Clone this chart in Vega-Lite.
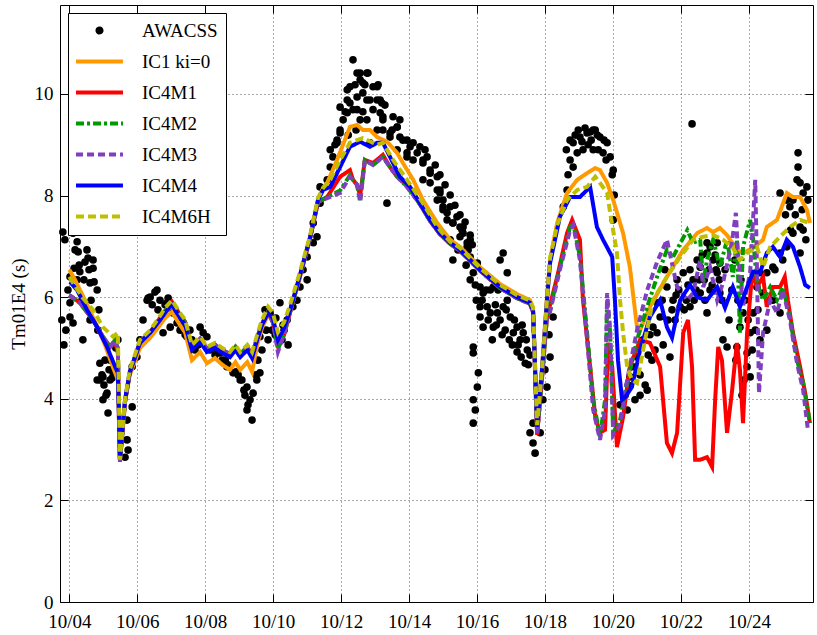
{
"$schema": "https://vega.github.io/schema/vega-lite/v6.json",
"width": 753, "height": 597,
"autosize": "none",
"padding": {"left": 60, "top": 5, "right": 4, "bottom": 33},
"background": "white",
"config": {"view": {"stroke": null}, "font": "Liberation Serif, Times New Roman, serif"},
"data": {"values": [
{"s":"AWACSS","d":3.81,"v":7.28},{"s":"AWACSS","d":3.87,"v":7.13},{"s":"AWACSS","d":3.78,"v":5.55},{"s":"AWACSS","d":3.84,"v":5.06},{"s":"AWACSS","d":3.90,"v":5.35},{"s":"AWACSS","d":4.02,"v":6.40},{"s":"AWACSS","d":4.02,"v":5.89},{"s":"AWACSS","d":4.02,"v":5.61},{"s":"AWACSS","d":4.11,"v":7.26},{"s":"AWACSS","d":4.11,"v":5.49},{"s":"AWACSS","d":4.14,"v":6.57},{"s":"AWACSS","d":4.23,"v":7.09},{"s":"AWACSS","d":4.23,"v":6.34},{"s":"AWACSS","d":4.26,"v":6.89},{"s":"AWACSS","d":4.31,"v":6.50},{"s":"AWACSS","d":4.37,"v":5.94},{"s":"AWACSS","d":4.40,"v":5.16},{"s":"AWACSS","d":4.46,"v":6.69},{"s":"AWACSS","d":4.52,"v":6.93},{"s":"AWACSS","d":4.55,"v":6.77},{"s":"AWACSS","d":4.61,"v":6.28},{"s":"AWACSS","d":4.61,"v":5.55},{"s":"AWACSS","d":4.70,"v":6.73},{"s":"AWACSS","d":4.70,"v":6.57},{"s":"AWACSS","d":4.73,"v":6.30},{"s":"AWACSS","d":4.82,"v":6.14},{"s":"AWACSS","d":4.84,"v":5.35},{"s":"AWACSS","d":4.90,"v":4.70},{"s":"AWACSS","d":4.90,"v":4.37},{"s":"AWACSS","d":4.96,"v":4.47},{"s":"AWACSS","d":4.99,"v":3.98},{"s":"AWACSS","d":4.99,"v":4.43},{"s":"AWACSS","d":5.02,"v":4.27},{"s":"AWACSS","d":5.08,"v":4.07},{"s":"AWACSS","d":5.11,"v":4.11},{"s":"AWACSS","d":5.14,"v":3.72},{"s":"AWACSS","d":5.20,"v":4.37},{"s":"AWACSS","d":5.20,"v":4.76},{"s":"AWACSS","d":5.26,"v":4.41},{"s":"AWACSS","d":5.29,"v":4.51},{"s":"AWACSS","d":5.32,"v":4.61},{"s":"AWACSS","d":5.37,"v":5.00},{"s":"AWACSS","d":5.43,"v":5.16},{"s":"AWACSS","d":4.82,"v":4.37},
{"s":"AWACSS","d":3.96,"v":6.14},{"s":"AWACSS","d":4.17,"v":6.93},{"s":"AWACSS","d":4.29,"v":6.63},{"s":"AWACSS","d":4.43,"v":6.34},{"s":"AWACSS","d":4.58,"v":6.54},{"s":"AWACSS","d":4.64,"v":5.94},{"s":"AWACSS","d":4.87,"v":5.75},{"s":"AWACSS","d":5.05,"v":4.76},{"s":"AWACSS","d":5.17,"v":4.57},
{"s":"AWACSS","d":5.64,"v":2.85},{"s":"AWACSS","d":5.70,"v":3.58},{"s":"AWACSS","d":5.70,"v":3.19},{"s":"AWACSS","d":5.73,"v":2.99},{"s":"AWACSS","d":5.85,"v":3.84},{"s":"AWACSS","d":5.85,"v":4.63},{"s":"AWACSS","d":5.99,"v":4.82},{"s":"AWACSS","d":6.08,"v":5.16},{"s":"AWACSS","d":6.17,"v":5.55},{"s":"AWACSS","d":6.29,"v":5.94},{"s":"AWACSS","d":6.32,"v":5.98},{"s":"AWACSS","d":6.38,"v":6.00},{"s":"AWACSS","d":6.52,"v":6.10},{"s":"AWACSS","d":6.58,"v":6.14},{"s":"AWACSS","d":6.67,"v":5.94},{"s":"AWACSS","d":6.76,"v":5.30},{"s":"AWACSS","d":6.82,"v":5.85},{"s":"AWACSS","d":6.88,"v":5.89},{"s":"AWACSS","d":6.97,"v":5.41},{"s":"AWACSS","d":7.05,"v":5.69},{"s":"AWACSS","d":7.17,"v":5.49},{"s":"AWACSS","d":7.26,"v":5.35},{"s":"AWACSS","d":7.41,"v":5.26},{"s":"AWACSS","d":7.46,"v":5.22},{"s":"AWACSS","d":7.61,"v":5.16},{"s":"AWACSS","d":7.79,"v":5.06},{"s":"AWACSS","d":7.85,"v":5.41},{"s":"AWACSS","d":7.94,"v":5.30},{"s":"AWACSS","d":8.05,"v":5.22},{"s":"AWACSS","d":8.14,"v":4.96},{"s":"AWACSS","d":8.23,"v":5.02},{"s":"AWACSS","d":8.29,"v":4.86},{"s":"AWACSS","d":8.43,"v":4.90},{"s":"AWACSS","d":8.50,"v":4.76},{"s":"AWACSS","d":8.64,"v":4.63},{"s":"AWACSS","d":8.67,"v":4.67},{"s":"AWACSS","d":8.82,"v":4.51},{"s":"AWACSS","d":8.91,"v":4.53},{"s":"AWACSS","d":9.03,"v":4.37},{"s":"AWACSS","d":9.08,"v":4.37},{"s":"AWACSS","d":9.17,"v":4.07},{"s":"AWACSS","d":9.23,"v":4.23},{"s":"AWACSS","d":9.23,"v":3.78},{"s":"AWACSS","d":9.26,"v":3.88},{"s":"AWACSS","d":9.32,"v":3.98},{"s":"AWACSS","d":9.38,"v":3.58},{"s":"AWACSS","d":9.41,"v":4.11},{"s":"AWACSS","d":9.50,"v":4.47},{"s":"AWACSS","d":9.52,"v":4.37},{"s":"AWACSS","d":9.61,"v":4.51},{"s":"AWACSS","d":9.61,"v":5.22},{"s":"AWACSS","d":9.67,"v":4.96},{"s":"AWACSS","d":9.76,"v":5.75},{"s":"AWACSS","d":9.79,"v":5.35},{"s":"AWACSS","d":9.91,"v":5.69},{"s":"AWACSS","d":9.97,"v":5.35},{"s":"AWACSS","d":10.06,"v":5.26},{"s":"AWACSS","d":10.08,"v":5.59},{"s":"AWACSS","d":10.20,"v":5.89},{"s":"AWACSS","d":10.26,"v":5.16},{"s":"AWACSS","d":10.32,"v":5.35},{"s":"AWACSS","d":10.41,"v":5.55},{"s":"AWACSS","d":10.44,"v":5.06},{"s":"AWACSS","d":10.58,"v":5.81},{"s":"AWACSS","d":10.70,"v":5.94},
{"s":"AWACSS","d":6.44,"v":5.85},{"s":"AWACSS","d":6.61,"v":5.75},{"s":"AWACSS","d":6.91,"v":5.98},{"s":"AWACSS","d":7.32,"v":5.45},{"s":"AWACSS","d":7.55,"v":5.35},{"s":"AWACSS","d":7.70,"v":4.96},{"s":"AWACSS","d":8.35,"v":4.96},{"s":"AWACSS","d":8.59,"v":4.76},{"s":"AWACSS","d":8.97,"v":4.47},{"s":"AWACSS","d":9.14,"v":4.17},{"s":"AWACSS","d":9.55,"v":4.76},{"s":"AWACSS","d":9.85,"v":5.16},{"s":"AWACSS","d":10.29,"v":5.45},
{"s":"AWACSS","d":10.79,"v":6.20},{"s":"AWACSS","d":10.88,"v":6.54},{"s":"AWACSS","d":11.00,"v":6.34},{"s":"AWACSS","d":11.00,"v":6.79},{"s":"AWACSS","d":11.18,"v":7.07},{"s":"AWACSS","d":11.29,"v":7.19},{"s":"AWACSS","d":11.18,"v":7.46},{"s":"AWACSS","d":11.38,"v":7.85},{"s":"AWACSS","d":11.38,"v":8.17},{"s":"AWACSS","d":11.59,"v":8.31},{"s":"AWACSS","d":11.68,"v":8.56},{"s":"AWACSS","d":11.76,"v":8.76},{"s":"AWACSS","d":11.68,"v":8.90},{"s":"AWACSS","d":11.88,"v":9.09},{"s":"AWACSS","d":11.97,"v":9.23},{"s":"AWACSS","d":11.97,"v":9.74},{"s":"AWACSS","d":12.18,"v":9.63},{"s":"AWACSS","d":12.26,"v":9.82},{"s":"AWACSS","d":12.18,"v":10.08},{"s":"AWACSS","d":12.35,"v":10.67},{"s":"AWACSS","d":12.47,"v":10.41},{"s":"AWACSS","d":12.56,"v":10.28},{"s":"AWACSS","d":12.76,"v":10.41},{"s":"AWACSS","d":12.64,"v":10.02},{"s":"AWACSS","d":12.85,"v":9.88},{"s":"AWACSS","d":13.06,"v":10.14},{"s":"AWACSS","d":13.15,"v":9.88},{"s":"AWACSS","d":12.94,"v":9.69},{"s":"AWACSS","d":12.76,"v":9.49},{"s":"AWACSS","d":12.47,"v":9.69},{"s":"AWACSS","d":12.26,"v":10.14},{"s":"AWACSS","d":13.23,"v":9.49},{"s":"AWACSS","d":13.06,"v":9.29},{"s":"AWACSS","d":13.53,"v":9.55},{"s":"AWACSS","d":13.65,"v":9.35},{"s":"AWACSS","d":13.44,"v":9.15},{"s":"AWACSS","d":13.82,"v":9.09},{"s":"AWACSS","d":14.03,"v":8.96},{"s":"AWACSS","d":14.24,"v":8.84},{"s":"AWACSS","d":14.41,"v":8.70},{"s":"AWACSS","d":14.12,"v":8.70},{"s":"AWACSS","d":13.94,"v":8.76},{"s":"AWACSS","d":14.62,"v":8.44},{"s":"AWACSS","d":14.83,"v":8.11},{"s":"AWACSS","d":15.00,"v":7.78},{"s":"AWACSS","d":14.83,"v":7.91},{"s":"AWACSS","d":15.12,"v":7.52},{"s":"AWACSS","d":14.41,"v":8.31},{"s":"AWACSS","d":13.35,"v":7.85},{"s":"AWACSS","d":13.65,"v":8.90},{"s":"AWACSS","d":12.85,"v":9.04},{"s":"AWACSS","d":14.47,"v":8.90},{"s":"AWACSS","d":14.77,"v":8.60},{"s":"AWACSS","d":14.91,"v":8.41},{"s":"AWACSS","d":15.06,"v":8.21},{"s":"AWACSS","d":15.21,"v":8.01},{"s":"AWACSS","d":15.35,"v":7.81},{"s":"AWACSS","d":15.50,"v":7.62},{"s":"AWACSS","d":15.56,"v":7.32},{"s":"AWACSS","d":15.65,"v":7.48},{"s":"AWACSS","d":15.80,"v":7.22},{"s":"AWACSS","d":15.86,"v":7.03},{"s":"AWACSS","d":15.74,"v":6.93},
{"s":"AWACSS","d":12.56,"v":10.41},{"s":"AWACSS","d":12.79,"v":10.41},{"s":"AWACSS","d":12.64,"v":10.22},{"s":"AWACSS","d":12.94,"v":10.14},{"s":"AWACSS","d":13.09,"v":10.18},{"s":"AWACSS","d":12.18,"v":9.88},{"s":"AWACSS","d":12.47,"v":9.94},{"s":"AWACSS","d":12.76,"v":9.88},{"s":"AWACSS","d":13.06,"v":9.88},{"s":"AWACSS","d":13.20,"v":9.82},{"s":"AWACSS","d":12.12,"v":9.65},{"s":"AWACSS","d":12.35,"v":9.69},{"s":"AWACSS","d":12.64,"v":9.65},{"s":"AWACSS","d":13.15,"v":9.63},{"s":"AWACSS","d":12.56,"v":9.49},{"s":"AWACSS","d":13.23,"v":9.55},{"s":"AWACSS","d":13.73,"v":9.49},{"s":"AWACSS","d":11.97,"v":9.29},{"s":"AWACSS","d":11.88,"v":9.04},{"s":"AWACSS","d":13.23,"v":9.29},{"s":"AWACSS","d":13.44,"v":9.23},{"s":"AWACSS","d":13.73,"v":9.15},{"s":"AWACSS","d":13.94,"v":9.09},{"s":"AWACSS","d":14.12,"v":9.04},{"s":"AWACSS","d":14.32,"v":8.96},{"s":"AWACSS","d":14.53,"v":8.76},{"s":"AWACSS","d":14.41,"v":8.64},{"s":"AWACSS","d":14.62,"v":8.50},{"s":"AWACSS","d":14.83,"v":8.37},{"s":"AWACSS","d":14.62,"v":8.25},{"s":"AWACSS","d":14.91,"v":8.11},{"s":"AWACSS","d":15.00,"v":7.91},{"s":"AWACSS","d":15.21,"v":7.78},{"s":"AWACSS","d":15.12,"v":7.66},{"s":"AWACSS","d":15.41,"v":7.58},{"s":"AWACSS","d":15.29,"v":7.46},{"s":"AWACSS","d":15.59,"v":7.38},{"s":"AWACSS","d":15.50,"v":7.19},{"s":"AWACSS","d":15.80,"v":7.13},{"s":"AWACSS","d":15.71,"v":6.99},{"s":"AWACSS","d":13.94,"v":8.84},{"s":"AWACSS","d":13.65,"v":9.35},{"s":"AWACSS","d":12.06,"v":9.49},{"s":"AWACSS","d":12.41,"v":10.18},{"s":"AWACSS","d":12.70,"v":10.18},{"s":"AWACSS","d":13.29,"v":9.78},{"s":"AWACSS","d":13.50,"v":9.29},{"s":"AWACSS","d":12.44,"v":9.29},{"s":"AWACSS","d":12.21,"v":9.19},{"s":"AWACSS","d":11.82,"v":9.00},
{"s":"AWACSS","d":14.91,"v":8.05},{"s":"AWACSS","d":15.00,"v":7.72},{"s":"AWACSS","d":15.29,"v":7.46},{"s":"AWACSS","d":15.50,"v":7.38},{"s":"AWACSS","d":15.59,"v":7.26},{"s":"AWACSS","d":15.71,"v":7.07},{"s":"AWACSS","d":15.21,"v":7.13},{"s":"AWACSS","d":15.29,"v":6.73},{"s":"AWACSS","d":15.80,"v":6.79},{"s":"AWACSS","d":15.89,"v":6.48},{"s":"AWACSS","d":15.80,"v":6.34},{"s":"AWACSS","d":16.01,"v":6.67},{"s":"AWACSS","d":16.09,"v":6.20},{"s":"AWACSS","d":16.18,"v":6.08},{"s":"AWACSS","d":16.30,"v":5.81},{"s":"AWACSS","d":16.09,"v":5.81},{"s":"AWACSS","d":16.18,"v":5.41},{"s":"AWACSS","d":16.39,"v":5.69},{"s":"AWACSS","d":16.48,"v":5.41},{"s":"AWACSS","d":16.60,"v":5.69},{"s":"AWACSS","d":16.77,"v":5.81},{"s":"AWACSS","d":16.89,"v":5.94},{"s":"AWACSS","d":16.98,"v":5.61},{"s":"AWACSS","d":17.07,"v":5.30},{"s":"AWACSS","d":17.18,"v":5.41},{"s":"AWACSS","d":17.27,"v":5.16},{"s":"AWACSS","d":17.36,"v":5.30},{"s":"AWACSS","d":17.48,"v":4.96},{"s":"AWACSS","d":17.42,"v":4.70},{"s":"AWACSS","d":16.77,"v":6.87},{"s":"AWACSS","d":16.68,"v":6.73},{"s":"AWACSS","d":16.89,"v":6.48},{"s":"AWACSS","d":16.09,"v":5.61},{"s":"AWACSS","d":15.89,"v":5.02},{"s":"AWACSS","d":15.89,"v":4.90},{"s":"AWACSS","d":16.04,"v":4.51},{"s":"AWACSS","d":16.01,"v":4.23},{"s":"AWACSS","d":15.89,"v":3.98},{"s":"AWACSS","d":15.95,"v":3.78},{"s":"AWACSS","d":15.89,"v":3.52},{"s":"AWACSS","d":17.65,"v":3.52},{"s":"AWACSS","d":17.56,"v":3.33},{"s":"AWACSS","d":17.65,"v":3.13},{"s":"AWACSS","d":17.71,"v":2.93},{"s":"AWACSS","d":17.86,"v":3.33},{"s":"AWACSS","d":17.94,"v":3.98},{"s":"AWACSS","d":18.06,"v":4.23},{"s":"AWACSS","d":18.15,"v":4.82},{"s":"AWACSS","d":18.24,"v":5.61},{"s":"AWACSS","d":16.48,"v":6.20},{"s":"AWACSS","d":16.27,"v":6.14},{"s":"AWACSS","d":16.54,"v":5.85},{"s":"AWACSS","d":16.68,"v":5.55},{"s":"AWACSS","d":16.83,"v":5.35},{"s":"AWACSS","d":17.04,"v":5.06},{"s":"AWACSS","d":17.18,"v":4.92},{"s":"AWACSS","d":17.30,"v":4.82},{"s":"AWACSS","d":17.51,"v":4.67},
{"s":"AWACSS","d":15.95,"v":6.24},{"s":"AWACSS","d":16.15,"v":5.94},{"s":"AWACSS","d":16.33,"v":5.55},{"s":"AWACSS","d":16.45,"v":5.16},{"s":"AWACSS","d":16.57,"v":5.45},{"s":"AWACSS","d":16.74,"v":5.26},{"s":"AWACSS","d":16.86,"v":5.75},{"s":"AWACSS","d":16.95,"v":5.16},{"s":"AWACSS","d":17.10,"v":5.55},{"s":"AWACSS","d":17.21,"v":5.06},{"s":"AWACSS","d":17.33,"v":5.45},{"s":"AWACSS","d":17.45,"v":5.16},{"s":"AWACSS","d":17.56,"v":4.86},{"s":"AWACSS","d":15.98,"v":5.94},{"s":"AWACSS","d":16.39,"v":6.14},{"s":"AWACSS","d":16.62,"v":6.14},{"s":"AWACSS","d":15.68,"v":6.63},{"s":"AWACSS","d":15.44,"v":6.93},{"s":"AWACSS","d":18.12,"v":5.26},{"s":"AWACSS","d":18.00,"v":4.57},
{"s":"AWACSS","d":18.54,"v":7.78},{"s":"AWACSS","d":18.65,"v":8.11},{"s":"AWACSS","d":18.83,"v":8.56},{"s":"AWACSS","d":18.83,"v":9.04},{"s":"AWACSS","d":18.95,"v":8.84},{"s":"AWACSS","d":19.03,"v":9.15},{"s":"AWACSS","d":19.12,"v":8.90},{"s":"AWACSS","d":19.24,"v":9.23},{"s":"AWACSS","d":19.42,"v":9.29},{"s":"AWACSS","d":19.42,"v":8.90},{"s":"AWACSS","d":19.62,"v":9.15},{"s":"AWACSS","d":19.71,"v":8.84},{"s":"AWACSS","d":19.83,"v":9.04},{"s":"AWACSS","d":19.92,"v":8.76},{"s":"AWACSS","d":20.01,"v":8.50},{"s":"AWACSS","d":18.63,"v":8.90},{"s":"AWACSS","d":18.74,"v":9.09},{"s":"AWACSS","d":18.89,"v":9.19},{"s":"AWACSS","d":19.18,"v":9.33},{"s":"AWACSS","d":19.33,"v":9.25},{"s":"AWACSS","d":19.48,"v":9.29},{"s":"AWACSS","d":19.98,"v":8.41},{"s":"AWACSS","d":20.04,"v":8.01},{"s":"AWACSS","d":20.01,"v":7.52},
{"s":"AWACSS","d":18.98,"v":9.29},{"s":"AWACSS","d":19.09,"v":9.06},{"s":"AWACSS","d":19.27,"v":9.00},{"s":"AWACSS","d":19.36,"v":9.09},{"s":"AWACSS","d":19.54,"v":9.19},{"s":"AWACSS","d":19.57,"v":8.90},{"s":"AWACSS","d":19.74,"v":9.09},{"s":"AWACSS","d":19.80,"v":8.70},{"s":"AWACSS","d":18.74,"v":8.70},{"s":"AWACSS","d":18.68,"v":8.41},
{"s":"AWACSS","d":22.33,"v":9.41},{"s":"AWACSS","d":20.50,"v":4.43},{"s":"AWACSS","d":20.59,"v":4.63},{"s":"AWACSS","d":20.71,"v":4.82},{"s":"AWACSS","d":20.80,"v":4.07},{"s":"AWACSS","d":20.95,"v":4.27},{"s":"AWACSS","d":21.01,"v":4.17},{"s":"AWACSS","d":20.89,"v":5.16},{"s":"AWACSS","d":21.09,"v":5.26},{"s":"AWACSS","d":21.18,"v":5.41},{"s":"AWACSS","d":21.24,"v":4.96},{"s":"AWACSS","d":21.30,"v":5.30},{"s":"AWACSS","d":21.39,"v":5.61},{"s":"AWACSS","d":21.30,"v":5.89},{"s":"AWACSS","d":21.48,"v":5.06},{"s":"AWACSS","d":21.59,"v":6.20},{"s":"AWACSS","d":21.62,"v":5.55},{"s":"AWACSS","d":21.68,"v":4.82},{"s":"AWACSS","d":21.74,"v":5.75},{"s":"AWACSS","d":21.77,"v":5.94},{"s":"AWACSS","d":21.86,"v":6.04},{"s":"AWACSS","d":21.89,"v":6.34},{"s":"AWACSS","d":21.98,"v":5.81},{"s":"AWACSS","d":22.07,"v":6.48},{"s":"AWACSS","d":22.16,"v":5.94},{"s":"AWACSS","d":22.21,"v":6.24},{"s":"AWACSS","d":22.27,"v":5.81},{"s":"AWACSS","d":22.36,"v":6.34},{"s":"AWACSS","d":22.45,"v":6.14},{"s":"AWACSS","d":22.48,"v":6.73},{"s":"AWACSS","d":22.57,"v":6.59},{"s":"AWACSS","d":22.57,"v":6.08},{"s":"AWACSS","d":22.69,"v":6.34},{"s":"AWACSS","d":22.77,"v":6.87},{"s":"AWACSS","d":22.77,"v":7.07},{"s":"AWACSS","d":22.77,"v":5.69},{"s":"AWACSS","d":22.86,"v":6.99},{"s":"AWACSS","d":22.86,"v":6.14},{"s":"AWACSS","d":22.95,"v":6.73},{"s":"AWACSS","d":23.04,"v":6.54},{"s":"AWACSS","d":23.07,"v":7.07},{"s":"AWACSS","d":23.07,"v":6.48},{"s":"AWACSS","d":23.15,"v":6.08},{"s":"AWACSS","d":23.15,"v":6.67},{"s":"AWACSS","d":23.24,"v":5.16},{"s":"AWACSS","d":23.36,"v":5.02},{"s":"AWACSS","d":23.74,"v":5.41},{"s":"AWACSS","d":23.83,"v":5.69},{"s":"AWACSS","d":23.65,"v":5.02},{"s":"AWACSS","d":23.95,"v":4.90},{"s":"AWACSS","d":24.04,"v":5.30},{"s":"AWACSS","d":24.13,"v":5.69},{"s":"AWACSS","d":23.95,"v":4.63},{"s":"AWACSS","d":24.04,"v":4.43},{"s":"AWACSS","d":24.24,"v":6.20},{"s":"AWACSS","d":24.33,"v":6.48},{"s":"AWACSS","d":24.42,"v":6.08},{"s":"AWACSS","d":24.53,"v":6.48},{"s":"AWACSS","d":24.71,"v":6.59},{"s":"AWACSS","d":24.92,"v":6.87},{"s":"AWACSS","d":25.12,"v":6.99},{"s":"AWACSS","d":25.30,"v":7.26},{"s":"AWACSS","d":25.51,"v":7.38},{"s":"AWACSS","d":24.92,"v":8.05},{"s":"AWACSS","d":25.12,"v":7.91},{"s":"AWACSS","d":25.21,"v":7.78},{"s":"AWACSS","d":25.30,"v":7.91},{"s":"AWACSS","d":25.42,"v":8.31},{"s":"AWACSS","d":25.51,"v":8.25},{"s":"AWACSS","d":25.60,"v":8.05},{"s":"AWACSS","d":25.71,"v":8.17},{"s":"AWACSS","d":25.45,"v":8.56},{"s":"AWACSS","d":25.45,"v":8.84},{"s":"AWACSS","d":25.51,"v":6.87},{"s":"AWACSS","d":25.60,"v":7.32},{"s":"AWACSS","d":24.71,"v":5.94},{"s":"AWACSS","d":24.92,"v":5.69},{"s":"AWACSS","d":24.53,"v":5.35},{"s":"AWACSS","d":24.33,"v":5.16},{"s":"AWACSS","d":20.36,"v":4.07},{"s":"AWACSS","d":20.45,"v":4.27},{"s":"AWACSS","d":20.65,"v":3.98},
{"s":"AWACSS","d":21.45,"v":5.94},{"s":"AWACSS","d":21.53,"v":6.54},{"s":"AWACSS","d":21.83,"v":5.55},{"s":"AWACSS","d":21.94,"v":6.14},{"s":"AWACSS","d":22.10,"v":5.75},{"s":"AWACSS","d":22.27,"v":6.54},{"s":"AWACSS","d":22.39,"v":5.94},{"s":"AWACSS","d":22.54,"v":6.34},{"s":"AWACSS","d":22.63,"v":6.83},{"s":"AWACSS","d":22.71,"v":5.94},{"s":"AWACSS","d":22.83,"v":6.54},{"s":"AWACSS","d":22.92,"v":6.24},{"s":"AWACSS","d":23.01,"v":6.83},{"s":"AWACSS","d":23.13,"v":6.34},{"s":"AWACSS","d":23.21,"v":5.94},{"s":"AWACSS","d":23.30,"v":6.54},{"s":"AWACSS","d":23.42,"v":5.55},{"s":"AWACSS","d":23.50,"v":6.14},{"s":"AWACSS","d":23.59,"v":6.73},{"s":"AWACSS","d":23.68,"v":5.94},{"s":"AWACSS","d":23.77,"v":6.34},{"s":"AWACSS","d":23.89,"v":5.94},{"s":"AWACSS","d":23.98,"v":5.55},{"s":"AWACSS","d":24.10,"v":4.96},{"s":"AWACSS","d":24.19,"v":5.35},{"s":"AWACSS","d":24.27,"v":5.75},{"s":"AWACSS","d":23.86,"v":4.37},{"s":"AWACSS","d":23.80,"v":4.07},{"s":"AWACSS","d":23.62,"v":4.76},{"s":"AWACSS","d":21.15,"v":4.76},{"s":"AWACSS","d":21.04,"v":4.86},{"s":"AWACSS","d":20.80,"v":4.47},{"s":"AWACSS","d":25.08,"v":7.62},{"s":"AWACSS","d":25.23,"v":7.32},{"s":"AWACSS","d":25.37,"v":7.62},{"s":"AWACSS","d":25.57,"v":7.72},{"s":"AWACSS","d":25.68,"v":7.13},{"s":"AWACSS","d":25.74,"v":7.91},{"s":"AWACSS","d":24.77,"v":6.54},{"s":"AWACSS","d":25.00,"v":6.73},{"s":"AWACSS","d":20.21,"v":3.88},{"s":"AWACSS","d":20.42,"v":3.78},

{"s":"IC1 ki=0","d":4.0,"v":6.54},{"s":"IC1 ki=0","d":4.17,"v":6.34},{"s":"IC1 ki=0","d":4.46,"v":5.94},{"s":"IC1 ki=0","d":4.76,"v":5.51},{"s":"IC1 ki=0","d":5.05,"v":5.06},{"s":"IC1 ki=0","d":5.29,"v":4.61},{"s":"IC1 ki=0","d":5.43,"v":4.37},{"s":"IC1 ki=0","d":5.49,"v":2.80},{"s":"IC1 ki=0","d":5.64,"v":3.94},{"s":"IC1 ki=0","d":5.78,"v":4.47},{"s":"IC1 ki=0","d":6.08,"v":5.00},{"s":"IC1 ki=0","d":6.38,"v":5.20},{"s":"IC1 ki=0","d":6.67,"v":5.45},{"s":"IC1 ki=0","d":6.82,"v":5.59},{"s":"IC1 ki=0","d":7.02,"v":5.71},{"s":"IC1 ki=0","d":7.26,"v":5.45},{"s":"IC1 ki=0","d":7.41,"v":5.30},{"s":"IC1 ki=0","d":7.61,"v":4.76},{"s":"IC1 ki=0","d":7.85,"v":4.92},{"s":"IC1 ki=0","d":8.05,"v":4.70},{"s":"IC1 ki=0","d":8.29,"v":4.80},{"s":"IC1 ki=0","d":8.50,"v":4.67},{"s":"IC1 ki=0","d":8.73,"v":4.57},{"s":"IC1 ki=0","d":8.89,"v":4.72},{"s":"IC1 ki=0","d":9.03,"v":4.57},{"s":"IC1 ki=0","d":9.24,"v":4.72},{"s":"IC1 ki=0","d":9.38,"v":4.53},{"s":"IC1 ki=0","d":9.53,"v":5.06},{"s":"IC1 ki=0","d":9.67,"v":5.39},{"s":"IC1 ki=0","d":9.85,"v":5.65},{"s":"IC1 ki=0","d":9.99,"v":5.55},{"s":"IC1 ki=0","d":10.14,"v":5.20},{"s":"IC1 ki=0","d":10.32,"v":5.35},{"s":"IC1 ki=0","d":10.50,"v":5.71},{"s":"IC1 ki=0","d":10.79,"v":6.40},{"s":"IC1 ki=0","d":11.09,"v":7.17},{"s":"IC1 ki=0","d":11.32,"v":7.91},{"s":"IC1 ki=0","d":11.47,"v":8.15},{"s":"IC1 ki=0","d":11.59,"v":8.25},{"s":"IC1 ki=0","d":11.88,"v":8.70},{"s":"IC1 ki=0","d":12.26,"v":9.35},{"s":"IC1 ki=0","d":12.47,"v":9.39},{"s":"IC1 ki=0","d":12.64,"v":9.29},{"s":"IC1 ki=0","d":12.85,"v":9.29},{"s":"IC1 ki=0","d":13.06,"v":9.15},{"s":"IC1 ki=0","d":13.35,"v":9.06},{"s":"IC1 ki=0","d":13.65,"v":8.84},{"s":"IC1 ki=0","d":13.82,"v":8.64},{"s":"IC1 ki=0","d":14.12,"v":8.31},{"s":"IC1 ki=0","d":14.41,"v":7.91},{"s":"IC1 ki=0","d":14.83,"v":7.46},{"s":"IC1 ki=0","d":15.21,"v":7.13},{"s":"IC1 ki=0","d":15.50,"v":6.99},{"s":"IC1 ki=0","d":16.09,"v":6.59},{"s":"IC1 ki=0","d":16.68,"v":6.26},{"s":"IC1 ki=0","d":17.18,"v":6.06},{"s":"IC1 ki=0","d":17.56,"v":5.94},{"s":"IC1 ki=0","d":17.65,"v":5.79},{"s":"IC1 ki=0","d":17.77,"v":3.48},{"s":"IC1 ki=0","d":17.92,"v":4.67},{"s":"IC1 ki=0","d":18.06,"v":6.00},{"s":"IC1 ki=0","d":18.15,"v":6.73},{"s":"IC1 ki=0","d":18.36,"v":7.46},{"s":"IC1 ki=0","d":18.65,"v":8.05},{"s":"IC1 ki=0","d":18.95,"v":8.31},{"s":"IC1 ki=0","d":19.24,"v":8.44},{"s":"IC1 ki=0","d":19.48,"v":8.54},{"s":"IC1 ki=0","d":19.62,"v":8.50},{"s":"IC1 ki=0","d":19.83,"v":8.25},{"s":"IC1 ki=0","d":20.01,"v":7.91},{"s":"IC1 ki=0","d":20.30,"v":7.26},{"s":"IC1 ki=0","d":20.50,"v":6.59},{"s":"IC1 ki=0","d":20.71,"v":5.41},{"s":"IC1 ki=0","d":20.80,"v":5.35},{"s":"IC1 ki=0","d":21.09,"v":5.81},{"s":"IC1 ki=0","d":21.59,"v":6.40},{"s":"IC1 ki=0","d":22.07,"v":6.93},{"s":"IC1 ki=0","d":22.48,"v":7.26},{"s":"IC1 ki=0","d":22.77,"v":7.36},{"s":"IC1 ki=0","d":22.95,"v":7.28},{"s":"IC1 ki=0","d":23.15,"v":7.36},{"s":"IC1 ki=0","d":23.36,"v":7.22},{"s":"IC1 ki=0","d":23.65,"v":6.93},{"s":"IC1 ki=0","d":23.83,"v":6.87},{"s":"IC1 ki=0","d":24.13,"v":6.97},{"s":"IC1 ki=0","d":24.42,"v":7.13},{"s":"IC1 ki=0","d":24.53,"v":7.38},{"s":"IC1 ki=0","d":24.83,"v":7.52},{"s":"IC1 ki=0","d":25.12,"v":8.05},{"s":"IC1 ki=0","d":25.30,"v":7.97},{"s":"IC1 ki=0","d":25.51,"v":7.97},{"s":"IC1 ki=0","d":25.71,"v":7.72},{"s":"IC1 ki=0","d":25.80,"v":7.46},

{"s":"IC4M1","d":4.0,"v":6.04},{"s":"IC4M1","d":4.31,"v":5.89},{"s":"IC4M1","d":4.70,"v":5.55},{"s":"IC4M1","d":4.99,"v":5.22},{"s":"IC4M1","d":5.20,"v":5.02},{"s":"IC4M1","d":5.35,"v":5.10},{"s":"IC4M1","d":5.43,"v":4.90},{"s":"IC4M1","d":5.49,"v":2.76},{"s":"IC4M1","d":5.64,"v":3.94},{"s":"IC4M1","d":5.78,"v":4.51},{"s":"IC4M1","d":6.08,"v":5.12},{"s":"IC4M1","d":6.38,"v":5.31},{"s":"IC4M1","d":6.67,"v":5.59},{"s":"IC4M1","d":6.82,"v":5.73},{"s":"IC4M1","d":7.02,"v":5.91},{"s":"IC4M1","d":7.26,"v":5.65},{"s":"IC4M1","d":7.41,"v":5.51},{"s":"IC4M1","d":7.61,"v":5.02},{"s":"IC4M1","d":7.85,"v":5.18},{"s":"IC4M1","d":8.05,"v":4.98},{"s":"IC4M1","d":8.29,"v":5.06},{"s":"IC4M1","d":8.50,"v":4.96},{"s":"IC4M1","d":8.73,"v":4.88},{"s":"IC4M1","d":8.89,"v":5.02},{"s":"IC4M1","d":9.03,"v":4.88},{"s":"IC4M1","d":9.24,"v":5.02},{"s":"IC4M1","d":9.38,"v":4.86},{"s":"IC4M1","d":9.53,"v":5.20},{"s":"IC4M1","d":9.67,"v":5.47},{"s":"IC4M1","d":9.85,"v":5.71},{"s":"IC4M1","d":9.99,"v":5.51},{"s":"IC4M1","d":10.14,"v":5.05},{"s":"IC4M1","d":10.32,"v":5.26},{"s":"IC4M1","d":10.50,"v":5.71},{"s":"IC4M1","d":10.79,"v":6.42},{"s":"IC4M1","d":11.09,"v":7.17},{"s":"IC4M1","d":11.32,"v":7.87},{"s":"IC4M1","d":11.59,"v":7.97},{"s":"IC4M1","d":11.97,"v":8.37},{"s":"IC4M1","d":12.26,"v":8.50},{"s":"IC4M1","d":12.35,"v":8.31},{"s":"IC4M1","d":12.47,"v":8.21},{"s":"IC4M1","d":12.56,"v":8.00},{"s":"IC4M1","d":12.70,"v":8.70},{"s":"IC4M1","d":12.94,"v":8.64},{"s":"IC4M1","d":13.23,"v":8.80},{"s":"IC4M1","d":13.44,"v":8.56},{"s":"IC4M1","d":13.65,"v":8.37},{"s":"IC4M1","d":13.94,"v":8.20},{"s":"IC4M1","d":14.32,"v":7.83},{"s":"IC4M1","d":14.62,"v":7.50},{"s":"IC4M1","d":14.91,"v":7.24},{"s":"IC4M1","d":15.21,"v":7.05},{"s":"IC4M1","d":15.50,"v":6.91},{"s":"IC4M1","d":16.09,"v":6.52},{"s":"IC4M1","d":16.68,"v":6.18},{"s":"IC4M1","d":17.18,"v":5.98},{"s":"IC4M1","d":17.56,"v":5.87},{"s":"IC4M1","d":17.65,"v":5.71},{"s":"IC4M1","d":17.77,"v":3.29},{"s":"IC4M1","d":17.92,"v":4.47},{"s":"IC4M1","d":18.06,"v":5.61},{"s":"IC4M1","d":18.36,"v":6.40},{"s":"IC4M1","d":18.65,"v":7.26},{"s":"IC4M1","d":18.80,"v":7.52},{"s":"IC4M1","d":19.03,"v":7.13},{"s":"IC4M1","d":19.12,"v":5.94},{"s":"IC4M1","d":19.33,"v":4.63},{"s":"IC4M1","d":19.48,"v":3.64},{"s":"IC4M1","d":19.62,"v":3.33},{"s":"IC4M1","d":19.77,"v":3.39},{"s":"IC4M1","d":19.86,"v":5.10},{"s":"IC4M1","d":19.98,"v":4.63},{"s":"IC4M1","d":20.12,"v":3.05},{"s":"IC4M1","d":20.30,"v":3.64},{"s":"IC4M1","d":20.50,"v":4.63},{"s":"IC4M1","d":20.80,"v":5.16},{"s":"IC4M1","d":21.09,"v":5.10},{"s":"IC4M1","d":21.39,"v":4.63},{"s":"IC4M1","d":21.59,"v":3.13},{"s":"IC4M1","d":21.74,"v":2.93},{"s":"IC4M1","d":21.89,"v":3.33},{"s":"IC4M1","d":22.07,"v":5.30},{"s":"IC4M1","d":22.21,"v":5.55},{"s":"IC4M1","d":22.33,"v":4.63},{"s":"IC4M1","d":22.42,"v":2.80},{"s":"IC4M1","d":22.57,"v":2.80},{"s":"IC4M1","d":22.77,"v":2.85},{"s":"IC4M1","d":22.92,"v":2.66},{"s":"IC4M1","d":23.01,"v":3.98},{"s":"IC4M1","d":23.10,"v":5.02},{"s":"IC4M1","d":23.21,"v":4.76},{"s":"IC4M1","d":23.36,"v":3.33},{"s":"IC4M1","d":23.50,"v":4.11},{"s":"IC4M1","d":23.65,"v":5.10},{"s":"IC4M1","d":23.74,"v":4.57},{"s":"IC4M1","d":23.83,"v":3.52},{"s":"IC4M1","d":23.95,"v":5.30},{"s":"IC4M1","d":24.10,"v":6.48},{"s":"IC4M1","d":24.24,"v":6.20},{"s":"IC4M1","d":24.42,"v":6.40},{"s":"IC4M1","d":24.53,"v":5.81},{"s":"IC4M1","d":24.71,"v":6.20},{"s":"IC4M1","d":24.92,"v":6.20},{"s":"IC4M1","d":25.06,"v":6.40},{"s":"IC4M1","d":25.15,"v":5.94},{"s":"IC4M1","d":25.30,"v":5.30},{"s":"IC4M1","d":25.51,"v":4.63},{"s":"IC4M1","d":25.66,"v":4.11},{"s":"IC4M1","d":25.80,"v":3.52},

{"s":"IC4M2","d":4.0,"v":6.04},{"s":"IC4M2","d":4.31,"v":5.89},{"s":"IC4M2","d":4.70,"v":5.55},{"s":"IC4M2","d":4.99,"v":5.22},{"s":"IC4M2","d":5.20,"v":5.02},{"s":"IC4M2","d":5.35,"v":5.16},{"s":"IC4M2","d":5.43,"v":4.96},{"s":"IC4M2","d":5.49,"v":2.76},{"s":"IC4M2","d":5.64,"v":3.94},{"s":"IC4M2","d":5.78,"v":4.51},{"s":"IC4M2","d":6.08,"v":5.12},{"s":"IC4M2","d":6.38,"v":5.31},{"s":"IC4M2","d":6.67,"v":5.59},{"s":"IC4M2","d":6.82,"v":5.73},{"s":"IC4M2","d":7.02,"v":5.91},{"s":"IC4M2","d":7.26,"v":5.65},{"s":"IC4M2","d":7.41,"v":5.51},{"s":"IC4M2","d":7.61,"v":5.02},{"s":"IC4M2","d":7.85,"v":5.18},{"s":"IC4M2","d":8.05,"v":4.98},{"s":"IC4M2","d":8.29,"v":5.06},{"s":"IC4M2","d":8.50,"v":4.96},{"s":"IC4M2","d":8.73,"v":4.88},{"s":"IC4M2","d":8.89,"v":5.02},{"s":"IC4M2","d":9.03,"v":4.88},{"s":"IC4M2","d":9.24,"v":5.02},{"s":"IC4M2","d":9.38,"v":4.86},{"s":"IC4M2","d":9.53,"v":5.20},{"s":"IC4M2","d":9.67,"v":5.47},{"s":"IC4M2","d":9.85,"v":5.71},{"s":"IC4M2","d":9.99,"v":5.51},{"s":"IC4M2","d":10.14,"v":4.98},{"s":"IC4M2","d":10.32,"v":5.26},{"s":"IC4M2","d":10.50,"v":5.71},{"s":"IC4M2","d":10.79,"v":6.42},{"s":"IC4M2","d":11.09,"v":7.17},{"s":"IC4M2","d":11.32,"v":7.87},{"s":"IC4M2","d":11.59,"v":7.97},{"s":"IC4M2","d":11.97,"v":8.10},{"s":"IC4M2","d":12.26,"v":8.40},{"s":"IC4M2","d":12.35,"v":8.31},{"s":"IC4M2","d":12.47,"v":8.21},{"s":"IC4M2","d":12.56,"v":7.91},{"s":"IC4M2","d":12.70,"v":8.70},{"s":"IC4M2","d":12.94,"v":8.60},{"s":"IC4M2","d":13.23,"v":8.76},{"s":"IC4M2","d":13.44,"v":8.56},{"s":"IC4M2","d":13.65,"v":8.37},{"s":"IC4M2","d":13.94,"v":8.17},{"s":"IC4M2","d":14.32,"v":7.83},{"s":"IC4M2","d":14.62,"v":7.50},{"s":"IC4M2","d":14.91,"v":7.24},{"s":"IC4M2","d":15.21,"v":7.05},{"s":"IC4M2","d":15.50,"v":6.91},{"s":"IC4M2","d":16.09,"v":6.52},{"s":"IC4M2","d":16.68,"v":6.18},{"s":"IC4M2","d":17.18,"v":5.98},{"s":"IC4M2","d":17.56,"v":5.87},{"s":"IC4M2","d":17.65,"v":5.71},{"s":"IC4M2","d":17.77,"v":3.29},{"s":"IC4M2","d":17.92,"v":4.47},{"s":"IC4M2","d":18.06,"v":5.61},{"s":"IC4M2","d":18.15,"v":5.75},{"s":"IC4M2","d":18.44,"v":6.59},{"s":"IC4M2","d":18.74,"v":7.38},{"s":"IC4M2","d":18.83,"v":7.46},{"s":"IC4M2","d":19.03,"v":6.79},{"s":"IC4M2","d":19.24,"v":5.30},{"s":"IC4M2","d":19.42,"v":3.98},{"s":"IC4M2","d":19.62,"v":3.25},{"s":"IC4M2","d":19.77,"v":3.98},{"s":"IC4M2","d":19.83,"v":5.94},{"s":"IC4M2","d":19.92,"v":5.30},{"s":"IC4M2","d":20.01,"v":3.33},{"s":"IC4M2","d":20.21,"v":3.58},{"s":"IC4M2","d":20.42,"v":4.31},{"s":"IC4M2","d":20.71,"v":5.16},{"s":"IC4M2","d":21.01,"v":5.81},{"s":"IC4M2","d":21.30,"v":6.40},{"s":"IC4M2","d":21.59,"v":6.93},{"s":"IC4M2","d":21.77,"v":6.79},{"s":"IC4M2","d":22.19,"v":7.32},{"s":"IC4M2","d":22.36,"v":7.07},{"s":"IC4M2","d":22.57,"v":7.13},{"s":"IC4M2","d":22.66,"v":6.28},{"s":"IC4M2","d":22.77,"v":6.73},{"s":"IC4M2","d":22.95,"v":7.13},{"s":"IC4M2","d":23.15,"v":6.59},{"s":"IC4M2","d":23.36,"v":7.13},{"s":"IC4M2","d":23.53,"v":6.40},{"s":"IC4M2","d":23.65,"v":7.13},{"s":"IC4M2","d":23.74,"v":5.30},{"s":"IC4M2","d":23.83,"v":6.99},{"s":"IC4M2","d":24.04,"v":7.52},{"s":"IC4M2","d":24.13,"v":7.13},{"s":"IC4M2","d":24.24,"v":6.28},{"s":"IC4M2","d":24.42,"v":5.94},{"s":"IC4M2","d":24.63,"v":6.20},{"s":"IC4M2","d":24.83,"v":5.94},{"s":"IC4M2","d":25.00,"v":6.20},{"s":"IC4M2","d":25.21,"v":5.61},{"s":"IC4M2","d":25.42,"v":4.76},{"s":"IC4M2","d":25.60,"v":4.31},{"s":"IC4M2","d":25.80,"v":3.52},

{"s":"IC4M3","d":4.0,"v":6.04},{"s":"IC4M3","d":4.31,"v":5.89},{"s":"IC4M3","d":4.70,"v":5.55},{"s":"IC4M3","d":4.99,"v":5.22},{"s":"IC4M3","d":5.20,"v":5.02},{"s":"IC4M3","d":5.35,"v":5.16},{"s":"IC4M3","d":5.43,"v":4.96},{"s":"IC4M3","d":5.49,"v":2.76},{"s":"IC4M3","d":5.64,"v":3.94},{"s":"IC4M3","d":5.78,"v":4.51},{"s":"IC4M3","d":6.08,"v":5.12},{"s":"IC4M3","d":6.38,"v":5.31},{"s":"IC4M3","d":6.67,"v":5.59},{"s":"IC4M3","d":6.82,"v":5.73},{"s":"IC4M3","d":7.02,"v":5.91},{"s":"IC4M3","d":7.26,"v":5.65},{"s":"IC4M3","d":7.41,"v":5.51},{"s":"IC4M3","d":7.61,"v":5.02},{"s":"IC4M3","d":7.85,"v":5.18},{"s":"IC4M3","d":8.05,"v":4.98},{"s":"IC4M3","d":8.29,"v":5.06},{"s":"IC4M3","d":8.50,"v":4.96},{"s":"IC4M3","d":8.73,"v":4.88},{"s":"IC4M3","d":8.89,"v":5.02},{"s":"IC4M3","d":9.03,"v":4.88},{"s":"IC4M3","d":9.24,"v":5.02},{"s":"IC4M3","d":9.38,"v":4.86},{"s":"IC4M3","d":9.53,"v":5.20},{"s":"IC4M3","d":9.67,"v":5.47},{"s":"IC4M3","d":9.85,"v":5.71},{"s":"IC4M3","d":9.99,"v":5.51},{"s":"IC4M3","d":10.14,"v":4.92},{"s":"IC4M3","d":10.32,"v":5.26},{"s":"IC4M3","d":10.50,"v":5.71},{"s":"IC4M3","d":10.79,"v":6.42},{"s":"IC4M3","d":11.09,"v":7.17},{"s":"IC4M3","d":11.32,"v":7.87},{"s":"IC4M3","d":11.59,"v":7.95},{"s":"IC4M3","d":11.97,"v":8.05},{"s":"IC4M3","d":12.26,"v":8.37},{"s":"IC4M3","d":12.35,"v":8.31},{"s":"IC4M3","d":12.47,"v":8.21},{"s":"IC4M3","d":12.56,"v":7.87},{"s":"IC4M3","d":12.70,"v":8.70},{"s":"IC4M3","d":12.94,"v":8.60},{"s":"IC4M3","d":13.23,"v":8.76},{"s":"IC4M3","d":13.44,"v":8.56},{"s":"IC4M3","d":13.65,"v":8.37},{"s":"IC4M3","d":13.94,"v":8.17},{"s":"IC4M3","d":14.32,"v":7.83},{"s":"IC4M3","d":14.62,"v":7.50},{"s":"IC4M3","d":14.91,"v":7.24},{"s":"IC4M3","d":15.21,"v":7.05},{"s":"IC4M3","d":15.50,"v":6.91},{"s":"IC4M3","d":16.09,"v":6.52},{"s":"IC4M3","d":16.68,"v":6.18},{"s":"IC4M3","d":17.18,"v":5.98},{"s":"IC4M3","d":17.56,"v":5.87},{"s":"IC4M3","d":17.65,"v":5.71},{"s":"IC4M3","d":17.77,"v":3.29},{"s":"IC4M3","d":17.92,"v":4.47},{"s":"IC4M3","d":18.06,"v":5.61},{"s":"IC4M3","d":18.15,"v":5.71},{"s":"IC4M3","d":18.44,"v":6.54},{"s":"IC4M3","d":18.74,"v":7.32},{"s":"IC4M3","d":18.83,"v":7.42},{"s":"IC4M3","d":19.03,"v":6.73},{"s":"IC4M3","d":19.24,"v":5.16},{"s":"IC4M3","d":19.42,"v":3.78},{"s":"IC4M3","d":19.62,"v":3.19},{"s":"IC4M3","d":19.77,"v":3.78},{"s":"IC4M3","d":19.83,"v":6.08},{"s":"IC4M3","d":19.92,"v":5.35},{"s":"IC4M3","d":20.01,"v":3.29},{"s":"IC4M3","d":20.21,"v":3.48},{"s":"IC4M3","d":20.42,"v":4.37},{"s":"IC4M3","d":20.71,"v":5.35},{"s":"IC4M3","d":21.01,"v":6.14},{"s":"IC4M3","d":21.30,"v":6.69},{"s":"IC4M3","d":21.59,"v":7.13},{"s":"IC4M3","d":21.89,"v":6.20},{"s":"IC4M3","d":22.19,"v":5.94},{"s":"IC4M3","d":22.36,"v":6.08},{"s":"IC4M3","d":22.57,"v":6.73},{"s":"IC4M3","d":22.66,"v":6.20},{"s":"IC4M3","d":22.86,"v":6.59},{"s":"IC4M3","d":23.07,"v":5.94},{"s":"IC4M3","d":23.24,"v":6.28},{"s":"IC4M3","d":23.50,"v":7.07},{"s":"IC4M3","d":23.62,"v":7.66},{"s":"IC4M3","d":23.68,"v":6.87},{"s":"IC4M3","d":23.83,"v":5.81},{"s":"IC4M3","d":24.04,"v":6.48},{"s":"IC4M3","d":24.19,"v":8.31},{"s":"IC4M3","d":24.24,"v":6.59},{"s":"IC4M3","d":24.30,"v":4.11},{"s":"IC4M3","d":24.42,"v":5.30},{"s":"IC4M3","d":24.63,"v":5.94},{"s":"IC4M3","d":24.83,"v":5.69},{"s":"IC4M3","d":25.00,"v":6.14},{"s":"IC4M3","d":25.21,"v":5.55},{"s":"IC4M3","d":25.42,"v":4.70},{"s":"IC4M3","d":25.60,"v":4.17},{"s":"IC4M3","d":25.74,"v":3.39},

{"s":"IC4M4","d":4.02,"v":6.30},{"s":"IC4M4","d":4.23,"v":6.14},{"s":"IC4M4","d":4.52,"v":5.75},{"s":"IC4M4","d":4.82,"v":5.41},{"s":"IC4M4","d":5.11,"v":5.02},{"s":"IC4M4","d":5.35,"v":4.63},{"s":"IC4M4","d":5.43,"v":4.51},{"s":"IC4M4","d":5.49,"v":2.80},{"s":"IC4M4","d":5.64,"v":3.98},{"s":"IC4M4","d":5.78,"v":4.53},{"s":"IC4M4","d":6.08,"v":5.10},{"s":"IC4M4","d":6.38,"v":5.30},{"s":"IC4M4","d":6.67,"v":5.55},{"s":"IC4M4","d":6.82,"v":5.69},{"s":"IC4M4","d":7.02,"v":5.85},{"s":"IC4M4","d":7.26,"v":5.59},{"s":"IC4M4","d":7.41,"v":5.45},{"s":"IC4M4","d":7.61,"v":4.96},{"s":"IC4M4","d":7.85,"v":5.12},{"s":"IC4M4","d":8.05,"v":4.92},{"s":"IC4M4","d":8.29,"v":5.00},{"s":"IC4M4","d":8.50,"v":4.90},{"s":"IC4M4","d":8.73,"v":4.82},{"s":"IC4M4","d":8.89,"v":4.96},{"s":"IC4M4","d":9.03,"v":4.82},{"s":"IC4M4","d":9.24,"v":4.96},{"s":"IC4M4","d":9.38,"v":4.80},{"s":"IC4M4","d":9.53,"v":5.16},{"s":"IC4M4","d":9.67,"v":5.45},{"s":"IC4M4","d":9.85,"v":5.69},{"s":"IC4M4","d":9.99,"v":5.59},{"s":"IC4M4","d":10.14,"v":5.16},{"s":"IC4M4","d":10.32,"v":5.39},{"s":"IC4M4","d":10.50,"v":5.75},{"s":"IC4M4","d":10.79,"v":6.44},{"s":"IC4M4","d":11.09,"v":7.19},{"s":"IC4M4","d":11.32,"v":7.91},{"s":"IC4M4","d":11.47,"v":8.11},{"s":"IC4M4","d":11.68,"v":8.17},{"s":"IC4M4","d":11.97,"v":8.56},{"s":"IC4M4","d":12.26,"v":8.96},{"s":"IC4M4","d":12.56,"v":9.06},{"s":"IC4M4","d":12.85,"v":8.96},{"s":"IC4M4","d":13.06,"v":9.04},{"s":"IC4M4","d":13.23,"v":9.04},{"s":"IC4M4","d":13.44,"v":8.76},{"s":"IC4M4","d":13.73,"v":8.37},{"s":"IC4M4","d":14.03,"v":8.17},{"s":"IC4M4","d":14.32,"v":7.85},{"s":"IC4M4","d":14.62,"v":7.52},{"s":"IC4M4","d":14.91,"v":7.26},{"s":"IC4M4","d":15.21,"v":7.07},{"s":"IC4M4","d":15.50,"v":6.93},{"s":"IC4M4","d":16.09,"v":6.54},{"s":"IC4M4","d":16.68,"v":6.20},{"s":"IC4M4","d":17.18,"v":6.00},{"s":"IC4M4","d":17.56,"v":5.89},{"s":"IC4M4","d":17.65,"v":5.75},{"s":"IC4M4","d":17.77,"v":3.45},{"s":"IC4M4","d":17.92,"v":4.63},{"s":"IC4M4","d":18.06,"v":5.94},{"s":"IC4M4","d":18.15,"v":6.67},{"s":"IC4M4","d":18.44,"v":7.58},{"s":"IC4M4","d":18.74,"v":7.97},{"s":"IC4M4","d":19.03,"v":7.97},{"s":"IC4M4","d":19.33,"v":8.17},{"s":"IC4M4","d":19.53,"v":7.38},{"s":"IC4M4","d":19.71,"v":7.13},{"s":"IC4M4","d":19.98,"v":6.79},{"s":"IC4M4","d":20.06,"v":5.94},{"s":"IC4M4","d":20.15,"v":4.76},{"s":"IC4M4","d":20.27,"v":3.98},{"s":"IC4M4","d":20.36,"v":4.03},{"s":"IC4M4","d":20.56,"v":4.23},{"s":"IC4M4","d":20.80,"v":4.96},{"s":"IC4M4","d":21.09,"v":5.61},{"s":"IC4M4","d":21.39,"v":5.94},{"s":"IC4M4","d":21.59,"v":5.41},{"s":"IC4M4","d":21.74,"v":5.20},{"s":"IC4M4","d":21.98,"v":5.94},{"s":"IC4M4","d":22.27,"v":6.24},{"s":"IC4M4","d":22.48,"v":6.00},{"s":"IC4M4","d":22.77,"v":5.94},{"s":"IC4M4","d":23.07,"v":6.20},{"s":"IC4M4","d":23.30,"v":5.79},{"s":"IC4M4","d":23.53,"v":6.20},{"s":"IC4M4","d":23.74,"v":5.81},{"s":"IC4M4","d":23.95,"v":6.20},{"s":"IC4M4","d":24.13,"v":6.50},{"s":"IC4M4","d":24.33,"v":6.48},{"s":"IC4M4","d":24.53,"v":6.87},{"s":"IC4M4","d":24.71,"v":6.99},{"s":"IC4M4","d":24.92,"v":6.79},{"s":"IC4M4","d":25.12,"v":7.13},{"s":"IC4M4","d":25.30,"v":6.99},{"s":"IC4M4","d":25.51,"v":6.59},{"s":"IC4M4","d":25.66,"v":6.24},{"s":"IC4M4","d":25.80,"v":6.18},

{"s":"IC4M6H","d":4.0,"v":6.40},{"s":"IC4M6H","d":4.11,"v":6.28},{"s":"IC4M6H","d":4.40,"v":5.98},{"s":"IC4M6H","d":4.70,"v":5.75},{"s":"IC4M6H","d":4.99,"v":5.41},{"s":"IC4M6H","d":5.29,"v":5.22},{"s":"IC4M6H","d":5.43,"v":5.30},{"s":"IC4M6H","d":5.49,"v":2.80},{"s":"IC4M6H","d":5.64,"v":3.98},{"s":"IC4M6H","d":5.78,"v":4.57},{"s":"IC4M6H","d":6.08,"v":5.16},{"s":"IC4M6H","d":6.38,"v":5.35},{"s":"IC4M6H","d":6.67,"v":5.63},{"s":"IC4M6H","d":6.82,"v":5.79},{"s":"IC4M6H","d":7.02,"v":5.94},{"s":"IC4M6H","d":7.26,"v":5.69},{"s":"IC4M6H","d":7.41,"v":5.55},{"s":"IC4M6H","d":7.61,"v":5.06},{"s":"IC4M6H","d":7.85,"v":5.22},{"s":"IC4M6H","d":8.05,"v":5.02},{"s":"IC4M6H","d":8.29,"v":5.10},{"s":"IC4M6H","d":8.50,"v":5.00},{"s":"IC4M6H","d":8.73,"v":4.92},{"s":"IC4M6H","d":8.89,"v":5.06},{"s":"IC4M6H","d":9.03,"v":4.92},{"s":"IC4M6H","d":9.24,"v":5.06},{"s":"IC4M6H","d":9.38,"v":4.92},{"s":"IC4M6H","d":9.53,"v":5.26},{"s":"IC4M6H","d":9.67,"v":5.55},{"s":"IC4M6H","d":9.85,"v":5.81},{"s":"IC4M6H","d":9.99,"v":5.69},{"s":"IC4M6H","d":10.14,"v":5.31},{"s":"IC4M6H","d":10.32,"v":5.51},{"s":"IC4M6H","d":10.50,"v":5.85},{"s":"IC4M6H","d":10.79,"v":6.50},{"s":"IC4M6H","d":11.09,"v":7.22},{"s":"IC4M6H","d":11.32,"v":7.95},{"s":"IC4M6H","d":11.47,"v":8.15},{"s":"IC4M6H","d":11.68,"v":8.31},{"s":"IC4M6H","d":11.97,"v":8.70},{"s":"IC4M6H","d":12.26,"v":9.04},{"s":"IC4M6H","d":12.64,"v":9.13},{"s":"IC4M6H","d":13.06,"v":9.00},{"s":"IC4M6H","d":13.23,"v":9.04},{"s":"IC4M6H","d":13.53,"v":8.70},{"s":"IC4M6H","d":13.94,"v":8.31},{"s":"IC4M6H","d":14.41,"v":7.85},{"s":"IC4M6H","d":14.83,"v":7.38},{"s":"IC4M6H","d":15.21,"v":7.09},{"s":"IC4M6H","d":15.50,"v":6.97},{"s":"IC4M6H","d":16.09,"v":6.57},{"s":"IC4M6H","d":16.68,"v":6.24},{"s":"IC4M6H","d":17.18,"v":6.04},{"s":"IC4M6H","d":17.56,"v":5.93},{"s":"IC4M6H","d":17.65,"v":5.79},{"s":"IC4M6H","d":17.77,"v":3.48},{"s":"IC4M6H","d":17.92,"v":4.63},{"s":"IC4M6H","d":18.06,"v":5.94},{"s":"IC4M6H","d":18.15,"v":6.77},{"s":"IC4M6H","d":18.36,"v":7.42},{"s":"IC4M6H","d":18.65,"v":7.91},{"s":"IC4M6H","d":18.95,"v":8.11},{"s":"IC4M6H","d":19.24,"v":8.17},{"s":"IC4M6H","d":19.48,"v":8.37},{"s":"IC4M6H","d":19.62,"v":8.25},{"s":"IC4M6H","d":19.83,"v":8.05},{"s":"IC4M6H","d":19.92,"v":7.66},{"s":"IC4M6H","d":20.12,"v":6.87},{"s":"IC4M6H","d":20.21,"v":5.94},{"s":"IC4M6H","d":20.30,"v":5.30},{"s":"IC4M6H","d":20.42,"v":4.63},{"s":"IC4M6H","d":20.56,"v":4.37},{"s":"IC4M6H","d":20.71,"v":4.31},{"s":"IC4M6H","d":20.89,"v":4.96},{"s":"IC4M6H","d":21.18,"v":5.94},{"s":"IC4M6H","d":21.59,"v":6.40},{"s":"IC4M6H","d":21.98,"v":6.79},{"s":"IC4M6H","d":22.36,"v":7.13},{"s":"IC4M6H","d":22.66,"v":7.19},{"s":"IC4M6H","d":22.95,"v":7.22},{"s":"IC4M6H","d":23.24,"v":7.13},{"s":"IC4M6H","d":23.53,"v":6.97},{"s":"IC4M6H","d":23.74,"v":6.73},{"s":"IC4M6H","d":23.95,"v":6.87},{"s":"IC4M6H","d":24.24,"v":6.99},{"s":"IC4M6H","d":24.42,"v":6.59},{"s":"IC4M6H","d":24.63,"v":6.99},{"s":"IC4M6H","d":24.92,"v":7.19},{"s":"IC4M6H","d":25.21,"v":7.38},{"s":"IC4M6H","d":25.51,"v":7.52},{"s":"IC4M6H","d":25.80,"v":7.46}
]},
"encoding": {
  "color": {"field": "s", "type": "nominal",
    "scale": {"domain": ["AWACSS","IC1 ki=0","IC4M1","IC4M2","IC4M3","IC4M4","IC4M6H"], "range": ["#000000","#FF9900","#FF0000","#009900","#7F3FBF","#0000FF","#BFBF00"]},
    "legend": {"title": null, "orient": "none", "legendX": 8, "legendY": 8, "fillColor": "#ffffff", "strokeColor": "#000000", "padding": 8, "rowPadding": 11, "symbolSize": 225, "symbolStrokeWidth": 4, "symbolOffset": 14, "labelOffset": 33, "labelFont": "Liberation Serif, Times New Roman, serif", "labelFontSize": 19, "labelColor": "#000000", "labelLimit": 300,
      "encode": {"symbols": {"update": {
        "shape": {"signal": "datum.value === 'AWACSS' ? 'M-0.27,0A0.27,0.27,0,1,0,0.27,0A0.27,0.27,0,1,0,-0.27,0Z' : 'M-3.13,0H3.13'"},
        "fill": {"scale": "color", "field": "value"},
        "stroke": {"scale": "color", "field": "value"},
        "strokeDash": {"scale": "strokeDash", "field": "value"},
        "opacity": {"value": 1}
      }}}}},
  "strokeDash": {"field": "s", "type": "nominal",
    "scale": {"domain": ["AWACSS","IC1 ki=0","IC4M1","IC4M2","IC4M3","IC4M4","IC4M6H"], "range": [[1,0],[1,0],[1,0],[8,3,3,3],[7,4],[1,0],[8,4]]},
    "legend": null}
},
"layer": [
  {"transform": [{"filter": "datum.s === 'AWACSS'"}],
   "mark": {"type": "point", "filled": true, "size": 58, "opacity": 1, "strokeWidth": 0},
   "encoding": {
     "x": {"field": "d", "type": "quantitative", "scale": {"domain": [3.726, 25.89], "nice": false, "zero": false},
       "axis": {"orient": "bottom", "values": [4,6,8,10,12,14,16,18,20,22,24], "labelExpr": "'10/' + (datum.value < 10 ? '0' : '') + datum.value", "title": null, "grid": true, "gridDash": [1,3], "gridColor": "#555555", "gridWidth": 1, "tickSize": -8, "tickColor": "#000000", "domainColor": "#000000", "labelPadding": 18, "labelFont": "Liberation Serif, Times New Roman, serif", "labelFontSize": 19, "labelColor": "#000000", "labelFlush": false, "labelOverlap": false}},
     "y": {"field": "v", "type": "quantitative", "scale": {"domain": [0, 11.75], "nice": false, "zero": false},
       "axis": {"orient": "left", "values": [0,2,4,6,8,10], "title": "Tm01E4 (s)", "titleFont": "Liberation Serif, Times New Roman, serif", "titleFontSize": 19, "titleFontWeight": "normal", "titleColor": "#000000", "titlePadding": 6, "grid": true, "gridDash": [1,3], "gridColor": "#555555", "gridWidth": 1, "tickSize": -8, "tickColor": "#000000", "domainColor": "#000000", "labelPadding": 15, "labelFont": "Liberation Serif, Times New Roman, serif", "labelFontSize": 19, "labelColor": "#000000"}}
   }},
  {"transform": [{"filter": "datum.s === 'IC1 ki=0'"}],
   "mark": {"type": "line", "strokeWidth": 4},
   "encoding": {
     "x": {"field": "d", "type": "quantitative", "axis": {"orient": "top", "values": [4,6,8,10,12,14,16,18,20,22,24], "labels": false, "title": null, "grid": false, "tickSize": -8, "tickColor": "#000000", "domainColor": "#000000"}},
     "y": {"field": "v", "type": "quantitative", "axis": {"orient": "right", "values": [0,2,4,6,8,10], "labels": false, "title": null, "grid": false, "tickSize": -8, "tickColor": "#000000", "domainColor": "#000000"}}
   }},
  {"transform": [{"filter": "datum.s === 'IC4M1'"}],
   "mark": {"type": "line", "strokeWidth": 4},
   "encoding": {"x": {"field": "d", "type": "quantitative", "axis": null}, "y": {"field": "v", "type": "quantitative", "axis": null}}},
  {"transform": [{"filter": "datum.s === 'IC4M2'"}],
   "mark": {"type": "line", "strokeWidth": 4},
   "encoding": {"x": {"field": "d", "type": "quantitative", "axis": null}, "y": {"field": "v", "type": "quantitative", "axis": null}}},
  {"transform": [{"filter": "datum.s === 'IC4M3'"}],
   "mark": {"type": "line", "strokeWidth": 4},
   "encoding": {"x": {"field": "d", "type": "quantitative", "axis": null}, "y": {"field": "v", "type": "quantitative", "axis": null}}},
  {"transform": [{"filter": "datum.s === 'IC4M4'"}],
   "mark": {"type": "line", "strokeWidth": 4},
   "encoding": {"x": {"field": "d", "type": "quantitative", "axis": null}, "y": {"field": "v", "type": "quantitative", "axis": null}}},
  {"transform": [{"filter": "datum.s === 'IC4M6H'"}],
   "mark": {"type": "line", "strokeWidth": 4},
   "encoding": {"x": {"field": "d", "type": "quantitative", "axis": null}, "y": {"field": "v", "type": "quantitative", "axis": null}}}
],
"resolve": {"axis": {"x": "independent", "y": "independent"}}
}
